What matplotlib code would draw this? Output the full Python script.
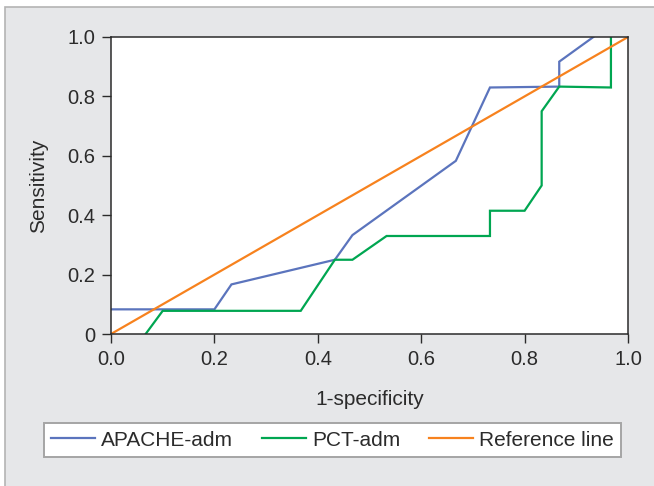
import matplotlib
matplotlib.use("Agg")
import matplotlib.pyplot as plt
from matplotlib.patches import Rectangle

# Data
apache_x = [0.0, 0.2, 0.233, 0.433, 0.467, 0.667, 0.733, 0.867, 0.867, 0.933]
apache_y = [0.083, 0.083, 0.167, 0.25, 0.333, 0.583, 0.83, 0.833, 0.917, 1.0]
pct_x = [0.067, 0.1, 0.367, 0.433, 0.467, 0.533, 0.733, 0.733, 0.8, 0.833, 0.833, 0.867, 0.967, 0.967]
pct_y = [0.0, 0.078, 0.078, 0.25, 0.25, 0.33, 0.33, 0.415, 0.415, 0.5, 0.75, 0.833, 0.83, 1.0]
ref_x = [0.0, 1.0]
ref_y = [0.0, 1.0]
x_ticks = [0.0, 0.2, 0.4, 0.6, 0.8, 1.0]
x_ticklabels = ["0.0", "0.2", "0.4", "0.6", "0.8", "1.0"]
y_ticks = [0.0, 0.2, 0.4, 0.6, 0.8, 1.0]
y_ticklabels = ["0", "0.2", "0.4", "0.6", "0.8", "1.0"]
labels = ["APACHE-adm", "PCT-adm", "Reference line"]

BLUE = "#5b74bd"
GREEN = "#00a651"
ORANGE = "#f7821e"
BG = "#e6e7e9"
DARK = "#2b2b2b"

plt.rcParams['font.family'] = ['Liberation Sans', 'DejaVu Sans']

W, H = 654, 486
fig = plt.figure(figsize=(W / 100, H / 100), dpi=100, facecolor="white")

# panel background with border on left/top
panel = Rectangle((5 / W, -0.1), 1.2, 1.1 - 7 / H, transform=fig.transFigure,
                  facecolor=BG, edgecolor="#b4b4b4", linewidth=1.2, zorder=-5)
fig.patches.append(panel)

ax = fig.add_axes([111 / W, 1 - 334 / H, (628 - 111) / W, (334 - 37) / H])
ax.set_facecolor("white")
ax.set_zorder(1)

l1, = ax.plot(apache_x, apache_y, color=BLUE, lw=1.6, label=labels[0], solid_joinstyle="miter")
l2, = ax.plot(pct_x, pct_y, color=GREEN, lw=1.6, label=labels[1], solid_joinstyle="miter")
l3, = ax.plot(ref_x, ref_y, color=ORANGE, lw=1.6, label=labels[2])

ax.set_xlim(0, 1)
ax.set_ylim(0, 1)
ax.set_xticks(x_ticks)
ax.set_xticklabels(x_ticklabels)
ax.set_yticks(y_ticks)
ax.set_yticklabels(y_ticklabels)
ax.tick_params(direction="out", length=6.8, width=1.0, color=DARK, labelsize=14.5,
               labelcolor=DARK, pad=4.5)
for s in ax.spines.values():
    s.set_color(DARK)
    s.set_linewidth(1.1)

ax.set_xlabel("1-specificity", fontsize=15, color=DARK, labelpad=15)
ax.set_ylabel("Sensitivity", fontsize=15, color=DARK, labelpad=14)

leg = fig.legend([l1, l2, l3], labels, ncol=3, loc="lower left",
                 bbox_to_anchor=(44 / W, 1 - 457 / H, (621 - 44) / W, 37 / H),
                 mode="expand", borderaxespad=0, frameon=True, fancybox=False,
                 fontsize=15, handlelength=2.1, handletextpad=0.3, borderpad=0.35,
                 columnspacing=1.0)
leg.set_zorder(2)
frame = leg.get_frame()
frame.set_edgecolor("#a5a5a5")
frame.set_linewidth(1.4)
frame.set_facecolor("white")
frame.set_alpha(1)
for t in leg.get_texts():
    t.set_color(DARK)

fig.savefig("out.png", dpi=100, facecolor="white")
